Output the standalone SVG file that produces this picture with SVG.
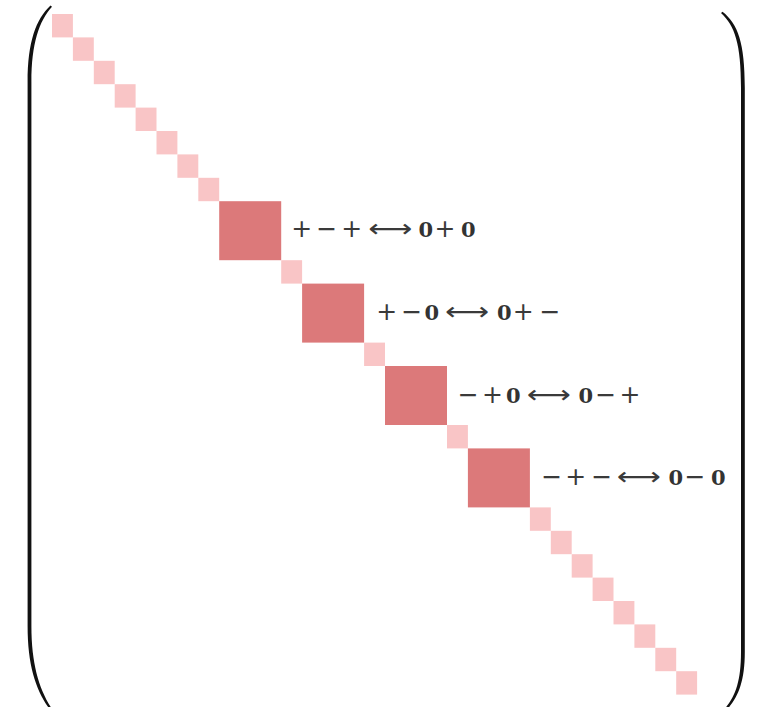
<svg xmlns="http://www.w3.org/2000/svg" width="757" height="707" viewBox="0 0 757 707">
  <style>
    .s { fill: #f9c5c6; }
    .b { fill: #dc797a; }
    .paren { fill: #111; }
    .num { font-family: "DejaVu Serif", "Liberation Serif", serif; font-weight: bold; font-size: 21px; fill: #333; text-anchor: middle; }
    .op { font-family: "DejaVu Sans", "Liberation Sans", sans-serif; font-size: 25px; fill: #3a3a3a; text-anchor: middle; }
    .arr { font-family: "DejaVu Sans", "Noto Sans", sans-serif; font-size: 25px; fill: #3a3a3a; }
  </style>
  <rect width="757" height="707" fill="#fff"/>

  <!-- matrix delimiters -->
  <g id="delimiters">
    <path class="paren" d="M50.5,5.5 C36,19 27.6,42 27.6,82 L27.6,626 C27.6,666 36,690 49.5,709 L52,709 C39,689 31.4,664 31.4,626 L31.4,82 C31.4,44 39,21 52,6.8 Z"/>
    <path class="paren" d="M721,13 C735,26 741,44 741,88 L741,652 C741,682 735,697 724.5,709 L727.5,709 C738,697 744.8,682 744.8,652 L744.8,88 C744.8,43 738,24 722.5,11.8 Z"/>
  </g>

  <!-- upper diagonal: 1x1 entries -->
  <g id="diag-upper">
    <rect class="s" x="52" y="14" width="20.9" height="23.4"/>
    <rect class="s" x="72.9" y="37.4" width="20.9" height="23.4"/>
    <rect class="s" x="93.8" y="60.8" width="20.9" height="23.4"/>
    <rect class="s" x="114.7" y="84.2" width="20.9" height="23.4"/>
    <rect class="s" x="135.6" y="107.6" width="20.9" height="23.4"/>
    <rect class="s" x="156.5" y="131" width="20.9" height="23.4"/>
    <rect class="s" x="177.4" y="154.4" width="20.9" height="23.4"/>
    <rect class="s" x="198.3" y="177.8" width="20.9" height="23.4"/>
  </g>

  <!-- block 1 -->
  <g id="block1">
    <rect class="b" x="219.2" y="201.2" width="62" height="59"/>
    <text class="op" x="301.7 326.7 351.7" y="237">+−+</text>
    <text class="arr" x="368.5" y="237" textLength="44" lengthAdjust="spacingAndGlyphs">⟷</text>
    <text class="num" x="425.8" y="237">0</text>
    <text class="op" x="445" y="237">+</text>
    <text class="num" x="468.3" y="237">0</text>
  </g>
  <rect class="s" x="281.2" y="260.2" width="20.9" height="23.4"/>

  <!-- block 2 -->
  <g id="block2">
    <rect class="b" x="302.1" y="283.6" width="62" height="59"/>
    <text class="op" x="386.7 411.7" y="320">+−</text>
    <text class="num" x="431.7" y="320">0</text>
    <text class="arr" x="445.2" y="320" textLength="44" lengthAdjust="spacingAndGlyphs">⟷</text>
    <text class="num" x="504.2" y="320">0</text>
    <text class="op" x="523.3 550" y="320">+−</text>
  </g>
  <rect class="s" x="364.1" y="342.6" width="20.9" height="23.4"/>

  <!-- block 3 -->
  <g id="block3">
    <rect class="b" x="385" y="366" width="62" height="59"/>
    <text class="op" x="468.3 492.5" y="403">−+</text>
    <text class="num" x="513.3" y="403">0</text>
    <text class="arr" x="526.9" y="403" textLength="44" lengthAdjust="spacingAndGlyphs">⟷</text>
    <text class="num" x="585.8" y="403">0</text>
    <text class="op" x="605.8 630" y="403">−+</text>
  </g>
  <rect class="s" x="447" y="425" width="20.9" height="23.4"/>

  <!-- block 4 -->
  <g id="block4">
    <rect class="b" x="467.9" y="448.4" width="62" height="59"/>
    <text class="op" x="551.7 575.8 601.7" y="484.5">−+−</text>
    <text class="arr" x="616.9" y="484.5" textLength="44" lengthAdjust="spacingAndGlyphs">⟷</text>
    <text class="num" x="675.8" y="484.5">0</text>
    <text class="op" x="695" y="484.5">−</text>
    <text class="num" x="718.3" y="484.5">0</text>
  </g>

  <!-- lower diagonal: 1x1 entries -->
  <g id="diag-lower">
    <rect class="s" x="529.9" y="507.4" width="20.9" height="23.4"/>
    <rect class="s" x="550.8" y="530.8" width="20.9" height="23.4"/>
    <rect class="s" x="571.7" y="554.2" width="20.9" height="23.4"/>
    <rect class="s" x="592.6" y="577.6" width="20.9" height="23.4"/>
    <rect class="s" x="613.5" y="601" width="20.9" height="23.4"/>
    <rect class="s" x="634.4" y="624.4" width="20.9" height="23.4"/>
    <rect class="s" x="655.3" y="647.8" width="20.9" height="23.4"/>
    <rect class="s" x="676.2" y="671.2" width="20.9" height="23.4"/>
  </g>
</svg>
